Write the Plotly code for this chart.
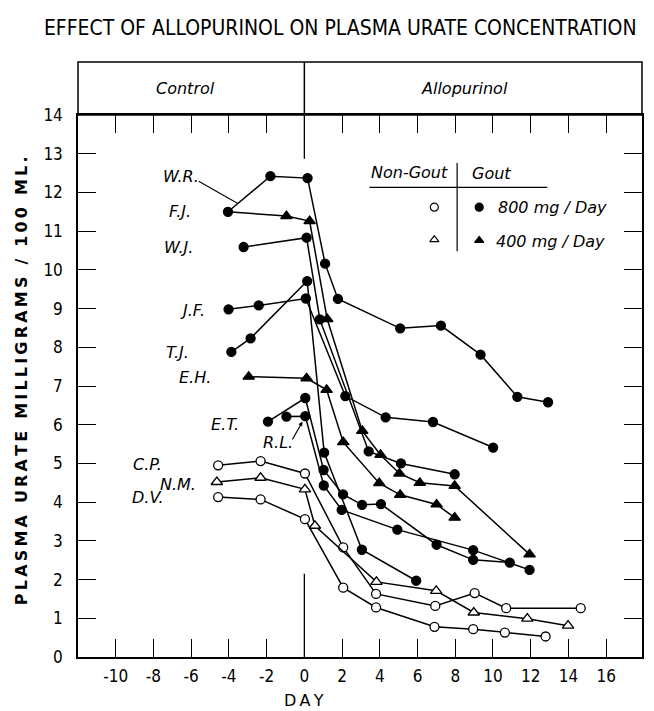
import plotly.graph_objects as go

# ---------------- data (day, plasma urate mg/100 ml) ----------------
wr_day = [-4.05, -1.8, 0.17, 1.1, 1.78, 5.08, 7.24, 9.34, 11.29, 12.92]
wr_val = [11.5, 12.42, 12.37, 10.16, 9.25, 8.49, 8.56, 7.81, 6.72, 6.58]

fj_day = [-4.05, -0.95, 0.28, 1.21, 3.07, 4.04, 5.04, 6.12, 7.97, 11.94]
fj_val = [11.5, 11.39, 11.26, 8.73, 5.84, 5.22, 4.74, 4.5, 4.42, 2.65]

wj_day = [-3.22, 0.12, 0.82, 3.41, 5.12, 7.97]
wj_val = [10.59, 10.83, 8.72, 5.31, 5.0, 4.72]

jf_day = [-4.02, -2.42, 0.08, 2.17, 4.31, 6.82, 10.01]
jf_val = [8.98, 9.08, 9.26, 6.74, 6.19, 6.07, 5.41]

tj_day = [-3.87, -2.85, 0.15, 1.05, 3.05, 5.93]
tj_val = [7.88, 8.23, 9.71, 5.28, 2.77, 1.97]

eh_day = [-2.95, 0.12, 1.18, 2.06, 3.97, 5.08, 7.01, 7.97]
eh_val = [7.24, 7.2, 6.9, 5.55, 4.49, 4.19, 3.94, 3.6]

et_day = [-1.93, 0.05, 1.02, 2.05, 3.06, 4.06, 7.01, 8.95, 10.89]
et_val = [6.08, 6.69, 4.83, 4.2, 3.93, 3.95, 2.9, 2.51, 2.44]

rl_day = [-0.95, 0.05, 1.03, 1.98, 4.93, 8.95, 11.94]
rl_val = [6.21, 6.22, 4.43, 3.8, 3.29, 2.76, 2.25]

cp_day = [-4.57, -2.32, 0.03, 2.06, 3.8, 6.94, 9.03, 10.7, 14.65]
cp_val = [4.95, 5.06, 4.74, 2.83, 1.63, 1.32, 1.65, 1.26, 1.26]

nm_day = [-4.64, -2.32, 0.03, 0.56, 3.82, 6.99, 8.98, 11.82, 13.98]
nm_val = [4.52, 4.63, 4.33, 3.39, 1.94, 1.71, 1.15, 0.99, 0.81]

dv_day = [-4.57, -2.32, 0.03, 2.06, 3.8, 6.9, 8.95, 10.63, 12.79]
dv_val = [4.13, 4.07, 3.56, 1.79, 1.28, 0.78, 0.72, 0.63, 0.53]

x_ticks = [-10, -8, -6, -4, -2, 0, 2, 4, 6, 8, 10, 12, 14, 16]
x_tick_text = ["-10", "-8", "-6", "-4", "-2", "0", "2", "4", "6", "8", "10", "12", "14", "16"]
y_ticks = list(range(0, 15))

TITLE = "EFFECT OF ALLOPURINOL ON PLASMA URATE CONCENTRATION"
Y_TITLE = "PLASMA URATE MILLIGRAMS / 100 ML."
X_TITLE = "DAY"

# ---------------- styling ----------------
FONT = "DejaVu Sans, sans-serif"
NARROW = "Liberation Sans Narrow, DejaVu Sans Condensed, DejaVu Sans, sans-serif"
INK = "black"


def spaced(s, gap):
    return gap.join(list(s))


series = [
    (wr_day, wr_val, "circle", INK),
    (fj_day, fj_val, "triangle-up", INK),
    (wj_day, wj_val, "circle", INK),
    (jf_day, jf_val, "circle", INK),
    (tj_day, tj_val, "circle", INK),
    (eh_day, eh_val, "triangle-up", INK),
    (et_day, et_val, "circle", INK),
    (rl_day, rl_val, "circle", INK),
    (cp_day, cp_val, "circle", "white"),
    (nm_day, nm_val, "triangle-up", "white"),
    (dv_day, dv_val, "circle", "white"),
]

fig = go.Figure()
for days, vals, sym, fill in series:
    sizes = [10 if sym == "triangle-up" else 9] * len(days)
    if days is fj_day:
        sizes[0] = 0  # first F.J. point hidden under W.R. marker
    fig.add_trace(go.Scatter(
        x=days, y=vals, mode="lines+markers",
        line=dict(color=INK, width=1.5),
        marker=dict(symbol=sym, size=sizes, color=fill, opacity=1,
                    line=dict(color=INK, width=1.3)),
        showlegend=False, hoverinfo="skip"))
# redraw W.R. first marker on top of F.J.
fig.add_trace(go.Scatter(x=wr_day[:1], y=wr_val[:1], mode="markers",
                         marker=dict(symbol="circle", size=9, color=INK, opacity=1),
                         showlegend=False, hoverinfo="skip"))

# ---------------- key ----------------
key = [(6.89, 11.62, "circle", "white"), (9.27, 11.62, "circle", INK),
       (6.89, 10.78, "triangle-up", "white"), (9.27, 10.76, "triangle-up", INK)]
for kx, ky, ks, kf in key:
    fig.add_trace(go.Scatter(x=[kx], y=[ky], mode="markers",
                             marker=dict(symbol=ks, size=8, color=kf, opacity=1,
                                         line=dict(color=INK, width=1.2)),
                             showlegend=False, hoverinfo="skip"))

HDR = 1.0977
shapes = [
    dict(type="rect", xref="paper", yref="paper", x0=0, x1=1, y0=1, y1=HDR,
         line=dict(color=INK, width=1.5)),
    dict(type="line", xref="x", yref="paper", x0=0, x1=0, y0=1, y1=HDR,
         line=dict(color=INK, width=1.5)),
    dict(type="line", xref="x", yref="y", x0=0, x1=0, y0=14, y1=12.87,
         line=dict(color=INK, width=1.3)),
    dict(type="line", xref="x", yref="y", x0=0, x1=0, y0=0, y1=2.15,
         line=dict(color=INK, width=1.3)),
    dict(type="line", xref="x", yref="y", x0=3.45, x1=12.88, y0=12.13, y1=12.13,
         line=dict(color=INK, width=1.2)),
    dict(type="line", xref="x", yref="y", x0=8.1, x1=8.1, y0=12.76, y1=10.48,
         line=dict(color=INK, width=1.2)),
    dict(type="line", xref="x", yref="y", x0=-5.6, x1=-3.55, y0=12.29, y1=11.72,
         line=dict(color=INK, width=1.1)),
]

ann = []
labels = [("W.R.", -6.55, 12.42), ("F.J.", -6.58, 11.5), ("W.J.", -6.66, 10.57),
          ("J.F.", -5.95, 8.95), ("T.J.", -6.71, 7.86), ("E.H.", -5.82, 7.21),
          ("E.T.", -4.23, 6.01), ("R.L.", -1.39, 5.54), ("C.P.", -8.31, 4.98),
          ("N.M.", -6.71, 4.46), ("D.V.", -8.31, 4.12)]
for t, lx, ly in labels:
    ann.append(dict(text=f"<i>{t}</i>", x=lx, y=ly, xref="x", yref="y",
                    xanchor="center", yanchor="middle", showarrow=False,
                    font=dict(family=FONT, size=16, color=INK)))
ann.append(dict(text="", x=-0.1, y=6.08, ax=-0.68, ay=5.58, xref="x", yref="y",
                axref="x", ayref="y", showarrow=True, arrowhead=2, arrowsize=0.8,
                arrowwidth=1.1, arrowcolor=INK))
for t, lx, ly in [("Non-Gout", 5.6, 12.52), ("Gout", 9.9, 12.5),
                  ("800 mg / Day", 13.15, 11.6), ("400 mg / Day", 13.06, 10.74)]:
    ann.append(dict(text=f"<i>{t}</i>", x=lx, y=ly, xref="x", yref="y",
                    xanchor="center", yanchor="middle", showarrow=False,
                    font=dict(family=FONT, size=16, color=INK)))
ann.append(dict(text="<i>Control</i>", x=-6.3, y=(1 + HDR) / 2, xref="x", yref="paper",
                xanchor="center", yanchor="middle", showarrow=False,
                font=dict(family=FONT, size=16, color=INK)))
ann.append(dict(text="<i>Allopurinol</i>", x=8.5, y=(1 + HDR) / 2, xref="x", yref="paper",
                xanchor="center", yanchor="middle", showarrow=False,
                font=dict(family=FONT, size=16, color=INK)))
ann.append(dict(text="<b>" + spaced(Y_TITLE, "\u2009") + "</b>", x=-0.1, y=0.51,
                xref="paper", yref="paper", xanchor="center", yanchor="middle",
                textangle=-90, showarrow=False,
                font=dict(family=FONT, size=16, color=INK)))
ann.append(dict(text=spaced(X_TITLE, "\u2009"), x=0, y=-0.0802, xref="x", yref="paper",
                xanchor="center", yanchor="middle", showarrow=False,
                font=dict(family=FONT, size=16, color=INK)))

fig.update_layout(
    width=654, height=711,
    margin=dict(l=70, r=20, t=107, b=62),
    paper_bgcolor="white", plot_bgcolor="white",
    title=dict(text=TITLE,
               x=0.508, xanchor="center", y=1 - 20 / 711, yanchor="middle",
               font=dict(family=NARROW, size=21, color=INK)),
    shapes=shapes, annotations=ann,
    xaxis=dict(range=[-12, 17.9], tickvals=x_ticks, ticktext=x_tick_text,
               ticks="inside", ticklen=18, tickwidth=1.3, tickcolor=INK,
               showline=True, linecolor=INK, linewidth=1.5, mirror="ticks",
               showgrid=False, zeroline=False, ticklabelstandoff=3,
               tickfont=dict(family=NARROW, size=17, color=INK)),
    yaxis=dict(range=[0, 14], tickvals=y_ticks,
               ticks="inside", ticklen=18, tickwidth=1.3, tickcolor=INK,
               showline=True, linecolor=INK, linewidth=1.5, mirror="ticks",
               showgrid=False, zeroline=False, ticklabelstandoff=10,
               tickfont=dict(family=NARROW, size=17, color=INK)),
)

fig.write_html("out.html")
